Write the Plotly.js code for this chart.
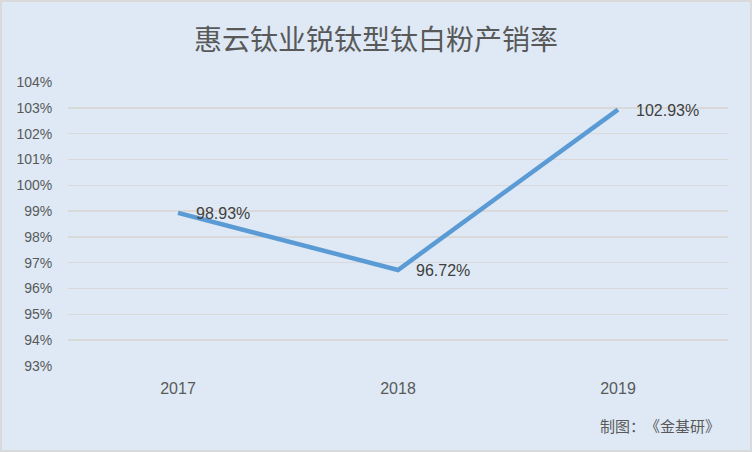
<!DOCTYPE html>
<html><head><meta charset="utf-8">
<script src="https://cdn.plot.ly/plotly-3.0.1.min.js"></script>
<style>
html,body{margin:0;padding:0;background:#fff;}
#wrap{width:752px;height:452px;box-sizing:border-box;border:2px solid #d9d9d9;background:#dee9f5;}
#chart{width:748px;height:448px;}
</style></head>
<body><div id="wrap"><div id="chart"></div></div>
<script>
const years = ['2017','2018','2019'];
const rates = [98.93, 96.72, 102.93];
const labels = ['98.93%','96.72%','102.93%'];
const titleText = '惠云钛业锐钛型钛白粉产销率';
const sourceText = '制图：\u3000《金基研》';
const font = '"Liberation Sans", "Noto Sans CJK SC", sans-serif';
const cjk = '"Noto Sans CJK SC", sans-serif';

const labelAnns = years.map((y, i) => ({
  x: i, y: rates[i], text: labels[i], xref: 'x', yref: 'y',
  xanchor: 'left', yanchor: 'middle', xshift: 16, yshift: -1, showarrow: false,
  font: {family: font, size: 16, color: '#404040'}
}));

Plotly.newPlot('chart', [{
  type: 'scatter', mode: 'lines',
  x: years, y: rates,
  line: {color: '#5b9bd5', width: 4.5},
  cliponaxis: false, hoverinfo: 'skip'
}], {
  width: 748, height: 448,
  margin: {l: 66, r: 22, t: 80, b: 84},
  paper_bgcolor: '#dee9f5', plot_bgcolor: '#dee9f5',
  showlegend: false,
  font: {family: font, color: '#595959'},
  title: {text: titleText, font: {family: cjk, size: 28, color: '#595959'}, x: 0.5, xanchor: 'center', y: 0.915, yanchor: 'middle'},
  xaxis: {type: 'category', range: [-0.5, 2.5], showgrid: false, zeroline: false, showline: false,
          ticks: 'outside', ticklen: 8, tickcolor: 'rgba(0,0,0,0)',
          tickfont: {family: font, size: 16, color: '#595959'}},
  yaxis: {range: [93, 104], dtick: 1, tick0: 93, ticksuffix: '%', showgrid: true, gridcolor: '#d9d9d9', gridwidth: 1.5,
          zeroline: false, showline: false, ticks: 'outside', ticklen: 12, tickcolor: 'rgba(0,0,0,0)',
          tickfont: {family: font, size: 14, color: '#595959'}},
  annotations: labelAnns.concat([{text: sourceText, xref: 'paper', yref: 'paper', x: 0.991, y: -0.208, xanchor: 'right', yanchor: 'middle',
                 showarrow: false, font: {family: cjk, size: 15, color: '#595959'}}])
}, {displayModeBar: false, staticPlot: true});
</script></body></html>
